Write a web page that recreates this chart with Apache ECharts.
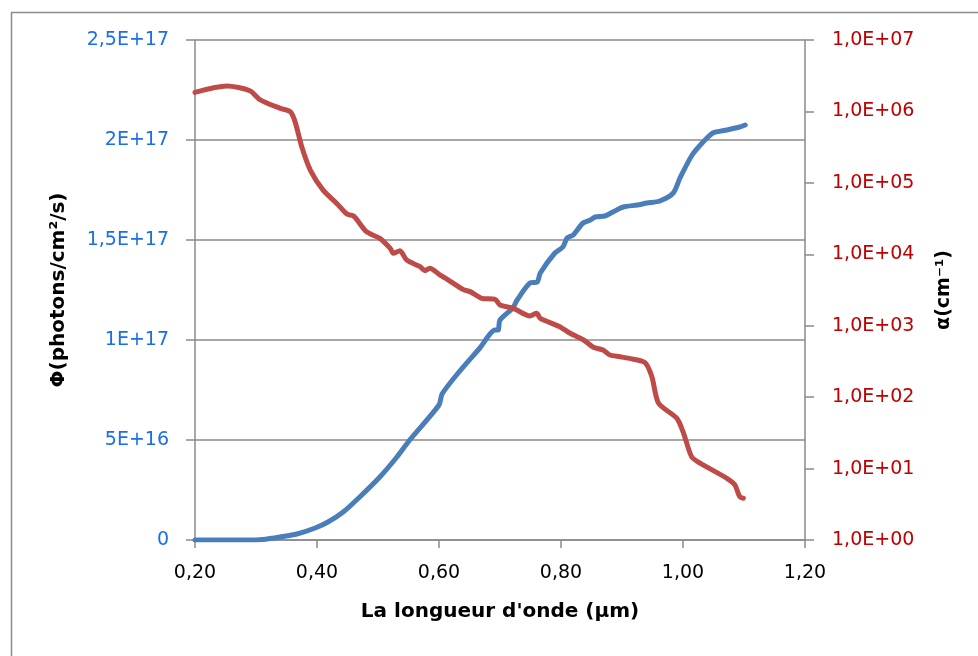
<!DOCTYPE html>
<html>
<head>
<meta charset="utf-8">
<script src="https://cdn.jsdelivr.net/npm/echarts@6/dist/echarts.min.js"></script>
<style>
  html, body { margin: 0; padding: 0; background: #ffffff; }
  #chart { width: 978px; height: 656px; }
</style>
</head>
<body>
<div id="chart"></div>
<script>
// Photon flux Φ (left axis, linear) versus wavelength in µm
var phiWavelength = [0.20, 0.25, 0.30, 0.311, 0.339, 0.367, 0.397, 0.418, 0.443, 0.470,
  0.503, 0.531, 0.552, 0.600, 0.605, 0.63, 0.667, 0.692, 0.697, 0.700,
  0.721, 0.728, 0.749, 0.761, 0.766, 0.790, 0.803, 0.810, 0.820, 0.836,
  0.848, 0.856, 0.872, 0.885, 0.902, 0.925, 0.941, 0.962, 0.984, 0.995,
  1.015, 1.033, 1.049, 1.072, 1.093, 1.102];
var phiValues = [0, 0, 0, 0.002e17, 0.015e17, 0.03e17, 0.06e17, 0.09e17, 0.14e17, 0.215e17,
  0.315e17, 0.415e17, 0.50e17, 0.675e17, 0.73e17, 0.83e17, 0.96e17, 1.05e17, 1.05e17, 1.10e17,
  1.16e17, 1.20e17, 1.285e17, 1.29e17, 1.335e17, 1.435e17, 1.465e17, 1.51e17, 1.525e17, 1.585e17,
  1.60e17, 1.615e17, 1.62e17, 1.64e17, 1.665e17, 1.675e17, 1.685e17, 1.695e17, 1.735e17, 1.81e17,
  1.925e17, 1.99e17, 2.035e17, 2.05e17, 2.065e17, 2.075e17];

// Absorption coefficient α in cm^-1 (right axis, logarithmic)
var alphaWavelength = [0.200, 0.252, 0.290, 0.307, 0.339, 0.356, 0.364, 0.375, 0.389, 0.410,
  0.432, 0.449, 0.460, 0.481, 0.503, 0.520, 0.525, 0.536, 0.547, 0.569,
  0.577, 0.585, 0.602, 0.613, 0.640, 0.651, 0.670, 0.692, 0.700, 0.722,
  0.749, 0.760, 0.766, 0.798, 0.815, 0.837, 0.853, 0.869, 0.880, 0.897,
  0.919, 0.938, 0.949, 0.960, 0.990, 1.001, 1.014, 1.028, 1.072, 1.085,
  1.093, 1.099];
var alphaValues = [1.85e6, 2.27e6, 1.95e6, 1.45e6, 1.11e6, 9.9e5, 7.2e5, 3.2e5, 1.51e5, 7.9e4,
  5.2e4, 3.66e4, 3.44e4, 2.07e4, 1.67e4, 1.21e4, 1.03e4, 1.12e4, 8.3e3, 6.7e3,
  5.9e3, 6.4e3, 5.1e3, 4.5e3, 3.2e3, 3.0e3, 2.42e3, 2.34e3, 1.95e3, 1.75e3,
  1.37e3, 1.49e3, 1.27e3, 970, 783, 631, 499, 457, 389, 368,
  339, 303, 193, 82, 50.6, 31.2, 14.7, 11.9, 7.3, 5.9,
  4.04, 3.84];

// Tick labels as printed (comma decimal separator)
var xTickLabels = ['0,20', '0,40', '0,60', '0,80', '1,00', '1,20'];
var phiTickLabels = ['0', '5E+16', '1E+17', '1,5E+17', '2E+17', '2,5E+17'];
var alphaTickLabels = ['1,0E+00', '1,0E+01', '1,0E+02', '1,0E+03', '1,0E+04', '1,0E+05', '1,0E+06', '1,0E+07'];

function pairs(xs, ys) {
  return xs.map(function (x, i) { return [x, ys[i]]; });
}

var FONT = 'DejaVu Sans';
var AXIS_GREY = '#8a8a8a';

var chart = echarts.init(document.getElementById('chart'), null, { renderer: 'canvas' });

chart.setOption({
  animation: false,
  backgroundColor: '#ffffff',
  graphic: [{
    type: 'rect',
    left: 9, top: 10,
    shape: { x: 0, y: 0, width: 990, height: 680 },
    style: { fill: 'none', stroke: '#8c8c8c', lineWidth: 1.5 },
    silent: true, z: -10
  }],
  grid: { left: 195, right: 173, top: 40, bottom: 116, containLabel: false },
  xAxis: {
    type: 'value',
    min: 0.2, max: 1.2, interval: 0.2,
    name: "La longueur d'onde (µm)",
    nameLocation: 'middle',
    nameGap: 62,
    nameTextStyle: { fontFamily: FONT, fontWeight: 'bold', fontSize: 20, color: '#000000' },
    axisLine: { show: true, onZero: false, lineStyle: { color: AXIS_GREY, width: 1.5 } },
    axisTick: { show: true, length: 8, lineStyle: { color: AXIS_GREY, width: 1.5 } },
    axisLabel: {
      margin: 24, fontFamily: FONT, fontSize: 19, color: '#000000',
      formatter: function (v, i) { return xTickLabels[i]; }
    },
    splitLine: { show: false }
  },
  yAxis: [{
    type: 'value',
    position: 'left',
    min: 0, max: 2.5e17, interval: 5e16,
    name: 'Φ(photons/cm²/s)',
    nameLocation: 'middle',
    nameGap: 126,
    nameRotate: 90,
    nameTextStyle: { fontFamily: FONT, fontWeight: 'bold', fontSize: 20, color: '#000000' },
    axisLine: { show: true, lineStyle: { color: AXIS_GREY, width: 1.5 } },
    axisTick: { show: true, length: 9, lineStyle: { color: AXIS_GREY, width: 1.5 } },
    axisLabel: {
      margin: 26, fontFamily: FONT, fontSize: 19, color: '#1a6fe6',
      formatter: function (v, i) { return phiTickLabels[i]; }
    },
    splitLine: { show: true, lineStyle: { color: AXIS_GREY, width: 1.5 } }
  }, {
    type: 'log',
    logBase: 10,
    position: 'right',
    min: 1, max: 1e7, interval: 1,
    name: 'α(cm⁻¹)',
    nameLocation: 'middle',
    nameGap: 130,
    nameRotate: 90,
    nameTextStyle: { fontFamily: FONT, fontWeight: 'bold', fontSize: 19, color: '#000000' },
    axisLine: { show: true, lineStyle: { color: AXIS_GREY, width: 1.5 } },
    axisTick: { show: true, length: 9, lineStyle: { color: AXIS_GREY, width: 1.5 } },
    axisLabel: {
      margin: 27, fontFamily: FONT, fontSize: 19, color: '#c00000',
      formatter: function (v, i) { return alphaTickLabels[i]; }
    },
    splitLine: { show: false }
  }],
  series: [{
    name: 'Φ',
    type: 'line',
    yAxisIndex: 0,
    data: pairs(phiWavelength, phiValues),
    showSymbol: false,
    smooth: 0.25,
    lineStyle: { color: '#4a7ebb', width: 5, cap: 'round', join: 'round' },
    itemStyle: { color: '#4a7ebb' }
  }, {
    name: 'α',
    type: 'line',
    yAxisIndex: 1,
    data: pairs(alphaWavelength, alphaValues),
    showSymbol: false,
    smooth: 0.25,
    lineStyle: { color: '#be4b48', width: 5, cap: 'round', join: 'round' },
    itemStyle: { color: '#be4b48' }
  }]
});
</script>
</body>
</html>
